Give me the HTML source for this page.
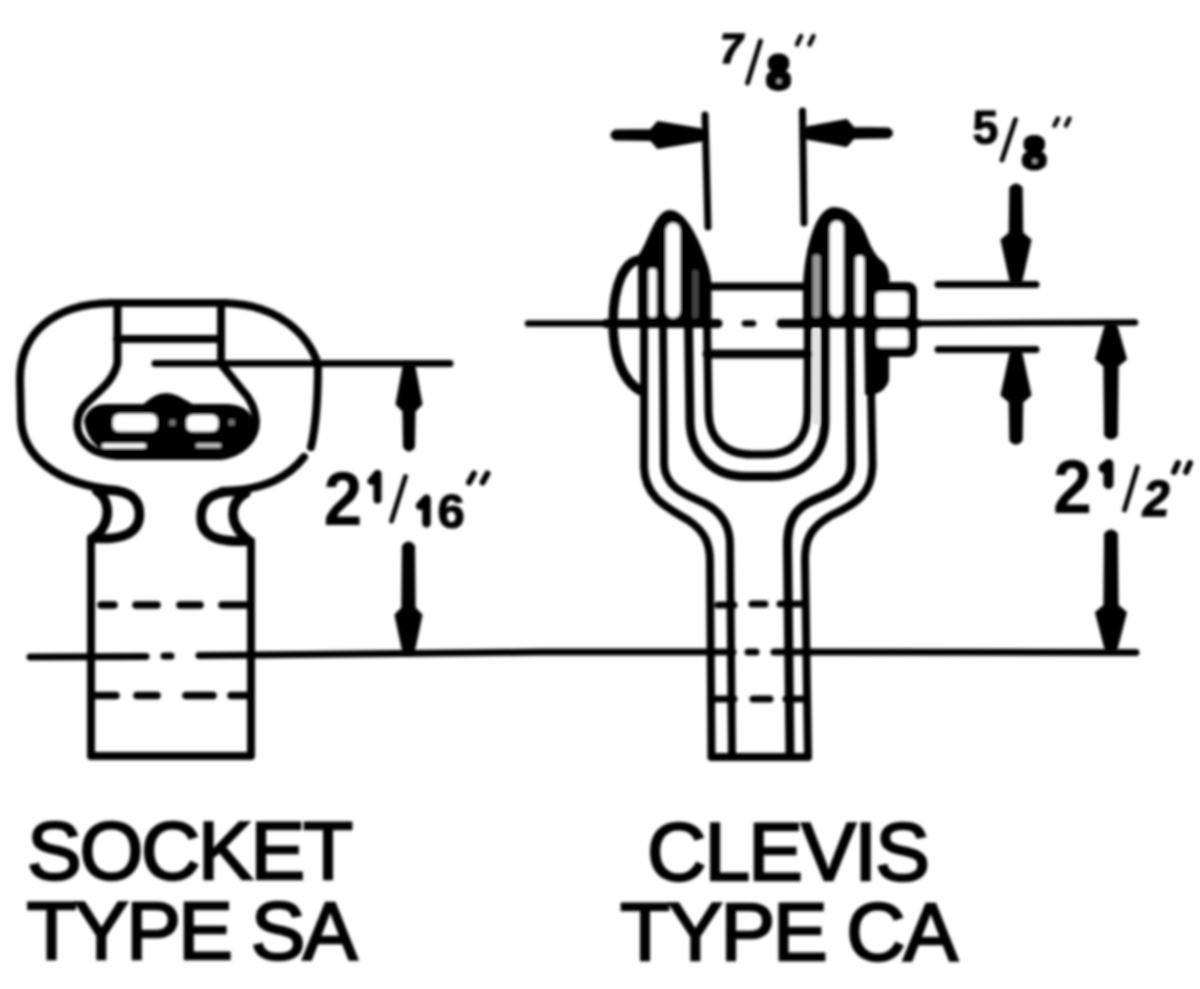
<!DOCTYPE html>
<html>
<head>
<meta charset="utf-8">
<title>Socket and Clevis</title>
<style>
html,body{margin:0;padding:0;background:#fff;}
body{width:1200px;height:989px;overflow:hidden;font-family:"Liberation Sans",sans-serif;}
svg{display:block;position:absolute;left:0;top:0;}
text{font-family:"Liberation Sans",sans-serif;fill:#000;}
.o{fill:none;stroke:#000;stroke-width:8;stroke-linecap:round;stroke-linejoin:round;}
.d{fill:none;stroke:#000;stroke-width:7;stroke-linecap:round;stroke-linejoin:round;}
.k{fill:#000;stroke:#000;stroke-width:2;stroke-linejoin:round;}
.w{fill:#fff;stroke:none;}
.lbl{font-size:82px;stroke:#000;stroke-width:2.4px;}
</style>
</head>
<body>
<svg width="1200" height="989" viewBox="0 0 1200 989">
<defs>
<filter id="bl" x="-5%" y="-5%" width="110%" height="110%"><feGaussianBlur stdDeviation="1.4"/></filter>
</defs>
<rect width="1200" height="989" fill="#fff"/>
<g filter="url(#bl)">

<!-- ================= SOCKET ================= -->
<g id="socket">
<!-- head outer outline -->
<path class="o" d="M311 447 C315 430 318 410 318 364 C308 335 280 305 225 303 L112 303 C50 304 20 336 20 379 L21 420 C23 455 55 485 117 490"/>
<path class="o" d="M304 457 C290 475 268 490 222 491"/>
<!-- loops + necks -->
<path class="o" style="stroke-width:9.5" d="M97 491 C112 489 139 489 139.5 514 C139.5 538 112 540 93 538"/>
<path class="o" style="stroke-width:9.5" d="M97 491 C109 499 114 522 93 538"/>
<path class="o" style="stroke-width:9.5" d="M246 493 C230 490 201 490 201 517 C201 541 228 542 248 541"/>
<path class="o" style="stroke-width:9.5" d="M244 494 C231 503 226 522 249 541"/>
<!-- body -->
<path class="o" d="M91 538 L91 756 L251 756 L251 541"/>
<!-- inner head lines -->
<path class="o" d="M117.5 303 L117.5 363 C112 385 95 393 84 406 C76 416 76 428 80 436 C86 448 98 455 118 456 L220 456 C240 454 256 440 256 421 C255 408 250 398 242 390 L221 364 L221 303"/>
<path class="o" d="M117 339 L221 339"/>
<!-- keyhole black -->
<path class="k" d="M85 421 C87 411 95 405 106 405 L144 405 C152 398 158 394 166 394 C175 394 182 399 192 405 L228 405 C244 406 252 414 252 424 C250 442 236 452 218 454 L118 454 C100 452 88 440 85 421 Z"/>
<rect class="w" x="113" y="414" width="44" height="17.5" rx="6"/>
<rect class="w" x="186.5" y="415" width="31.5" height="16.5" rx="6"/>
<rect x="169.5" y="420" width="5.5" height="5.5" fill="#777"/>
<rect x="229" y="419.5" width="5.5" height="5.5" fill="#777"/>
<rect class="w" x="102" y="443.5" width="44" height="4.5" rx="2.2"/>
<rect x="196" y="443.5" width="25" height="4" rx="2" fill="#c8c8c8"/>
<!-- dashed lines -->
<path class="d" style="stroke-width:7.5" d="M101 605 H114 M136 605 H157 M180 605 H200 M222 605 H248"/>
<path class="d" style="stroke-width:7.5" d="M94 695.5 H116 M137 695.5 H157 M186 695.5 H213 M231 695.5 H249"/>
</g>

<!-- base line + socket dimension -->
<path class="d" d="M30 657 L146 656.5 M164 656 L171 656 M199 655.5 L300 654.5 L540 652 L733 652 M748 652 H756 M774 652 H806 M806 652 L1136 652.5"/>
<path class="d" d="M155 363.5 L450 363.5"/>
<!-- arrow up (socket) -->
<!-- arrow down (socket) -->

<!-- ================= CLEVIS ================= -->
<g id="clevis">
<!-- pin -->
<path class="o" d="M709 286.5 L805 286.5"/>
<path class="o" style="stroke-width:9" d="M707 354 L808 354"/>
<!-- pin head left -->
<path class="o" style="stroke-width:9.5" d="M642 260 C625 258 613.5 285 613 322 C613 352 621 382 643 392"/>
<!-- left ear silhouette -->
<path class="k" d="M639 323 L639 256 C648 246 655 211 670 211 C686 211 700 245 707 265 C709 272 710.5 280 710.5 287 L710.5 323 Z"/>
<rect class="w" x="666" y="223" width="14" height="95" rx="7"/>
<rect class="w" x="648.5" y="268.5" width="8" height="48.5" rx="3.5"/>
<rect x="692.5" y="270" width="5.5" height="48" rx="2" fill="#444"/>
<!-- left arm lines -->
<path class="o" d="M644 323 L644 467 C645 498 668 508 688 520 C706 532 710 545 710 562 L711.5 756"/>
<path class="o" d="M663 323 L664 465 C666 490 690 496 706 504 C724 514 730 528 730 545 L732 756"/>
<!-- inner U / outer U -->
<path class="o" d="M706.5 287 L708.5 412 C709 440 726 454.5 752 454.5 L766 454.5 C792 454.5 807 440 807.5 412 L808 287"/>
<path class="o" style="stroke-width:9" d="M688.5 323 L690 422 C691 454 713 476.5 746 476.5 L772 476.5 C804 476.5 824.5 454 825 422 L825 323"/>
<rect x="813" y="330" width="6" height="95" fill="#e2e2e2"/>
<!-- right ear silhouette -->
<path class="k" d="M804 323 L804 285 C805 262 812 212 833 208 C850 208 860 222 866 237 C870 248 876 258 882 262 C886 265 888 270 888.5 278 L888 380 C886 388 880 392 872 394 L866 394 L865 323 Z"/>
<rect class="w" x="830" y="221" width="13.5" height="96" rx="6.5"/>
<rect class="w" x="855.5" y="256" width="8.5" height="60" rx="3.5"/>
<rect x="813" y="255" width="7" height="62" rx="2" fill="#9a9a9a"/>
<!-- nut -->
<rect class="k" x="870" y="283" width="46" height="73" rx="8"/>
<rect class="w" x="876" y="292" width="32" height="25" rx="4"/>
<rect class="w" x="877" y="329" width="31" height="18.5" rx="4"/>
<!-- right arm lines -->
<path class="o" style="stroke-width:9" d="M850 323 L851 465 C850 492 822 494 806 504 C790 514 787.5 530 787.5 545 L790 756"/>
<path class="o" d="M871 385 L872.5 465 C872 498 850 506 830 516 C810 528 805 540 805 560 L808 756"/>
<!-- centre line -->
<path class="o" style="stroke-width:9" d="M606 323.5 L718 323.5 M781 323.5 H804 M804 323.5 L918 323.5"/>
<path class="d" style="stroke-width:6.5" d="M745 323.5 H753"/>
<path class="d" style="stroke-width:6.5" d="M528 323.5 L606 323.5 M918 323.5 L1135 322.5"/>
<!-- stem bottom -->
<path class="o" d="M711.5 757 L808 757"/>
<!-- dashes in stem -->
<path class="d" d="M718 605 H734 M752 604 H765 M780 604 H801"/>
<path class="d" d="M714 699 H734 M753 699 H770 M786 699 H806"/>
</g>

<!-- 7/8 dimension -->
<path class="d" d="M705 115 L708 227 M802.5 111 L804 223"/>

<!-- 5/8 dimension -->
<path class="d" d="M938 284.5 L1036 284.5 M938 349.5 L1036 349.5"/>

<!-- 2 1/2 dimension -->

</g>

<!-- ================= ARROWS ================= -->
<g filter="url(#bl)">
<path class="k" d="M404 364 L396.5 404 L403.4 411 L404 447 Q409 454 414 447 L414.6 411 L421.5 404 L414 364 Z"/>
<path class="k" d="M413.5 653 L421.5 615 L414.7 608 L414.1 546 Q408.5 539 402.9 546 L402.3 608 L395.5 615 L403.5 653 Z"/>
<path class="k" d="M705 130 L658 122 L651 130 L615 130.5 Q608 135 615 139.5 L651 140 L658 148 L705 140 Z"/>
<path class="k" d="M803.5 138 L846.5 146 L853.5 138 L888.5 137.5 Q895.5 133 888.5 128.5 L853.5 128 L846.5 120 L803.5 128 Z"/>
<path class="k" d="M1021 283 L1030.5 240 L1022.3 233 L1021.7 188 Q1016 181 1010.3 188 L1009.7 233 L1001.5 240 L1011 283 Z"/>
<path class="k" d="M1011 351 L1001.5 395 L1009.7 402 L1010.3 440 Q1016 447 1021.7 440 L1022.3 402 L1030.5 395 L1021 351 Z"/>
<path class="k" d="M1106 324 L1096 359 L1104.4 366 L1105.1 435 Q1111 442 1116.9 435 L1117.6 366 L1126 359 L1116 324 Z"/>
<path class="k" d="M1116 651 L1126 612.5 L1117.6 605.5 L1116.9 534 Q1111 527 1105.1 534 L1104.4 605.5 L1096 612.5 L1106 651 Z"/>
</g>
<!-- ================= TEXT ================= -->
<g filter="url(#bl)">
<text class="lbl" x="27" y="878.5" textLength="326" lengthAdjust="spacing">SOCKET</text>
<text class="lbl" x="26.5" y="958.5" textLength="331" lengthAdjust="spacing">TYPE SA</text>
<text class="lbl" x="647" y="880" textLength="283" lengthAdjust="spacing">CLEVIS</text>
<text class="lbl" x="620" y="960" textLength="338" lengthAdjust="spacing">TYPE CA</text>
<text transform="translate(323.5 524.5) scale(0.920 1)" style="font-size:76px;font-weight:bold;">2</text>
<path d="M377.5 474 L377.5 499.5 M371.5 481 L376.5 475" stroke="#000" stroke-width="8" stroke-linecap="round" stroke-linejoin="round" fill="none"/>
<path d="M405.5 476.5 L391.5 521" stroke="#000" stroke-width="4.8" stroke-linecap="round" fill="none"/>
<path d="M426.5 498.8 L426.5 523.2 M420 505.8 L425.5 499.8" stroke="#000" stroke-width="8.5" stroke-linecap="round" stroke-linejoin="round" fill="none"/>
<text transform="translate(437.5 528) scale(1.000 1)" style="font-size:49px;font-weight:bold;stroke:#000;stroke-width:1.2px;">6</text>
<path d="M474 473.5 L469 482.5 M487.5 473.5 L482.5 482.5" stroke="#000" stroke-width="6" stroke-linecap="round" fill="none"/>
<text transform="translate(1053 512.5) scale(0.920 1)" style="font-size:76px;font-weight:bold;">2</text>
<path d="M1108.5 464 L1108.5 484 M1103.5 468 L1107.5 465" stroke="#000" stroke-width="10" stroke-linecap="round" stroke-linejoin="round" fill="none"/>
<path d="M1137.5 467 L1124.5 510" stroke="#000" stroke-width="4.8" stroke-linecap="round" fill="none"/>
<text transform="translate(1143 516) scale(0.950 1)" style="font-size:50px;font-weight:bold;font-style:italic;stroke:#000;stroke-width:1.6px;">2</text>
<path d="M1178 463 L1174 472 M1190 463 L1186 472" stroke="#000" stroke-width="6" stroke-linecap="round" fill="none"/>
<text transform="translate(720 62.5) scale(0.950 1)" style="font-size:43px;font-weight:bold;font-style:italic;stroke:#000;stroke-width:1.6px;">7</text>
<path d="M760.5 41 L747.5 83" stroke="#000" stroke-width="4.8" stroke-linecap="round" fill="none"/>
<rect x="767.8" y="53.5" width="21.5" height="19.5" rx="9.9" ry="8.2" fill="#000"/><rect x="766" y="69.2" width="25" height="21.8" rx="11.5" ry="9.6" fill="#000"/><circle cx="779" cy="81.2" r="2.3" fill="#aaa"/>
<path d="M801 36 L797 44.5 M813.5 36 L809.5 44.5" stroke="#000" stroke-width="4.5" stroke-linecap="round" fill="none"/>
<text transform="translate(972.5 143.5) scale(0.950 1)" style="font-size:49px;font-weight:bold;stroke:#000;stroke-width:1px;">5</text>
<path d="M1015.5 119.5 L1002 160" stroke="#000" stroke-width="4.8" stroke-linecap="round" fill="none"/>
<rect x="1023.5" y="135" width="21.5" height="18.5" rx="9.9" ry="7.8" fill="#000"/><rect x="1021.8" y="149.9" width="25" height="20.6" rx="11.5" ry="9.1" fill="#000"/><circle cx="1034.8" cy="161.2" r="2.3" fill="#aaa"/>
<path d="M1058 118.5 L1054.5 125.5 M1069.5 118.5 L1066 125.5" stroke="#000" stroke-width="4.5" stroke-linecap="round" fill="none"/>
</g>
</svg>
</body>
</html>
